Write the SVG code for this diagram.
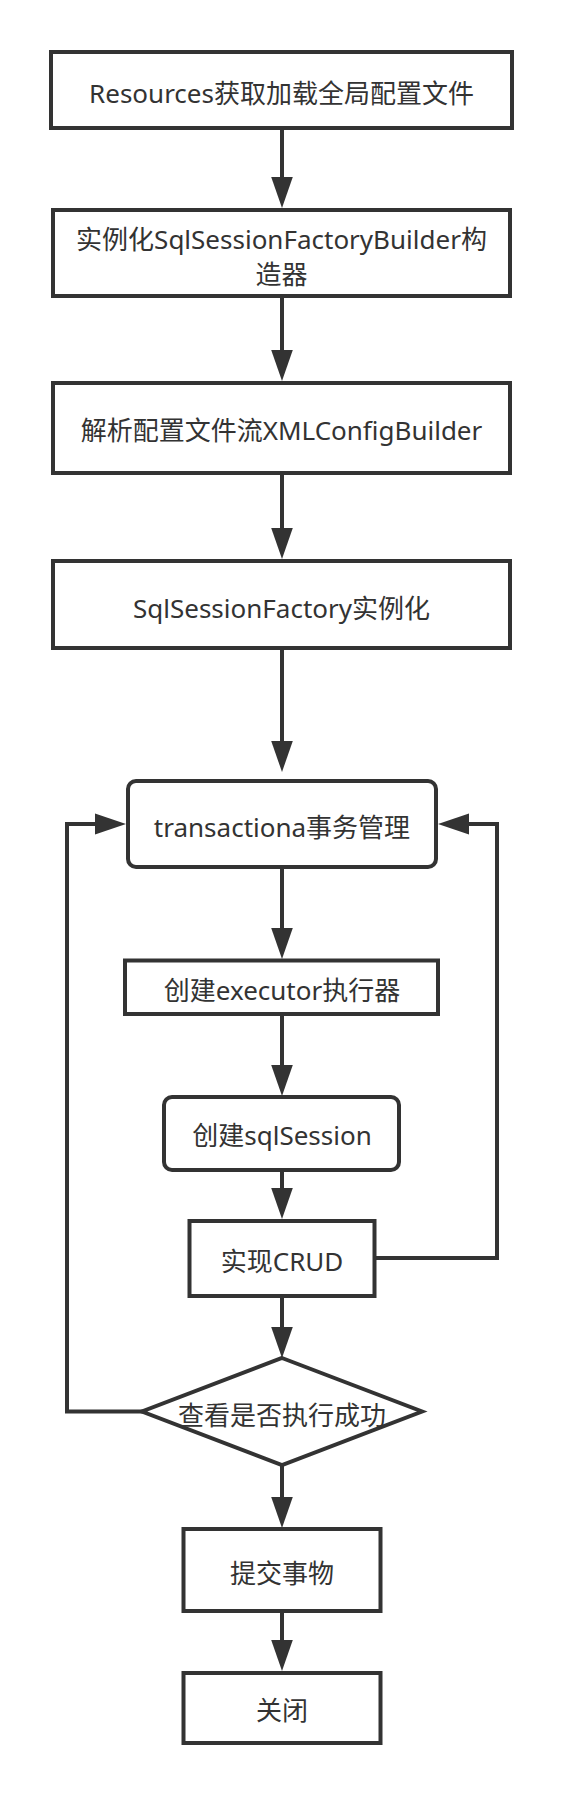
<svg xmlns="http://www.w3.org/2000/svg" width="564" height="1794" viewBox="0 0 564 1794">
<style>
.n{fill:#ffffff;stroke:#333333;stroke-width:4}
.t{font-family:"Noto Sans","Noto Sans CJK SC",sans-serif;font-size:26px;fill:#333333;text-anchor:middle}
.e{fill:none;stroke:#333333;stroke-width:4}
.h{fill:#333333;stroke:none}
</style>
<rect width="564" height="1794" fill="#ffffff"/>
<g id="connectors">
<path class="e" d="M282,128V178"/><polygon class="h" points="282,208 271.2,177 292.8,177"/>
<path class="e" d="M282,296V351"/><polygon class="h" points="282,381 271.2,350 292.8,350"/>
<path class="e" d="M282,473V529"/><polygon class="h" points="282,559 271.2,528 292.8,528"/>
<path class="e" d="M282,648V742"/><polygon class="h" points="282,772 271.2,741 292.8,741"/>
<path class="e" d="M282,867V929"/><polygon class="h" points="282,959 271.2,928 292.8,928"/>
<path class="e" d="M282,1014V1066"/><polygon class="h" points="282,1096 271.2,1065 292.8,1065"/>
<path class="e" d="M282,1170V1189"/><polygon class="h" points="282,1219 271.2,1188 292.8,1188"/>
<path class="e" d="M282,1296V1328"/><polygon class="h" points="282,1358 271.2,1327 292.8,1327"/>
<path class="e" d="M282,1465V1498"/><polygon class="h" points="282,1528 271.2,1497 292.8,1497"/>
<path class="e" d="M282,1611V1641"/><polygon class="h" points="282,1671 271.2,1640 292.8,1640"/>
<path class="e" d="M375,1258H497V824H468"/><polygon class="h" points="438,824 469,813.5 469,834.5"/>
<path class="e" d="M143,1411.5H67V824H96"/><polygon class="h" points="126,824 95,813.5 95,834.5"/>
</g>
<g id="n1"><rect class="n" x="51" y="52" width="461" height="76"/><text class="t" x="281.5" y="103">Resources获取加载全局配置文件</text></g>
<g id="n2"><rect class="n" x="53" y="210" width="457" height="86"/><text class="t" x="281.5" y="248.5">实例化SqlSessionFactoryBuilder构</text><text class="t" x="281.5" y="284">造器</text></g>
<g id="n3"><rect class="n" x="53" y="383" width="457" height="90"/><text class="t" x="281.5" y="440">解析配置文件流XMLConfigBuilder</text></g>
<g id="n4"><rect class="n" x="53" y="561" width="457" height="87"/><text class="t" x="281.5" y="618">SqlSessionFactory实例化</text></g>
<g id="n5"><rect class="n" x="128" y="781" width="308" height="86" rx="8"/><text class="t" x="282" y="837">transactiona事务管理</text></g>
<g id="n6"><rect class="n" x="125" y="960.5" width="313" height="53.5"/><text class="t" x="282" y="1000">创建executor执行器</text></g>
<g id="n7"><rect class="n" x="164" y="1097" width="235" height="73" rx="8"/><text class="t" x="282" y="1145">创建sqlSession</text></g>
<g id="n8"><rect class="n" x="189.5" y="1221" width="185" height="75"/><text class="t" x="282" y="1271">实现CRUD</text></g>
<g id="n9"><polygon class="n" points="282,1358 422,1411.5 282,1465 142,1411.5"/><text class="t" x="282" y="1425">查看是否执行成功</text></g>
<g id="n10"><rect class="n" x="183.5" y="1529" width="197" height="82"/><text class="t" x="282" y="1583">提交事物</text></g>
<g id="n11"><rect class="n" x="183.5" y="1673" width="197" height="70"/><text class="t" x="282" y="1720">关闭</text></g>
</svg>
